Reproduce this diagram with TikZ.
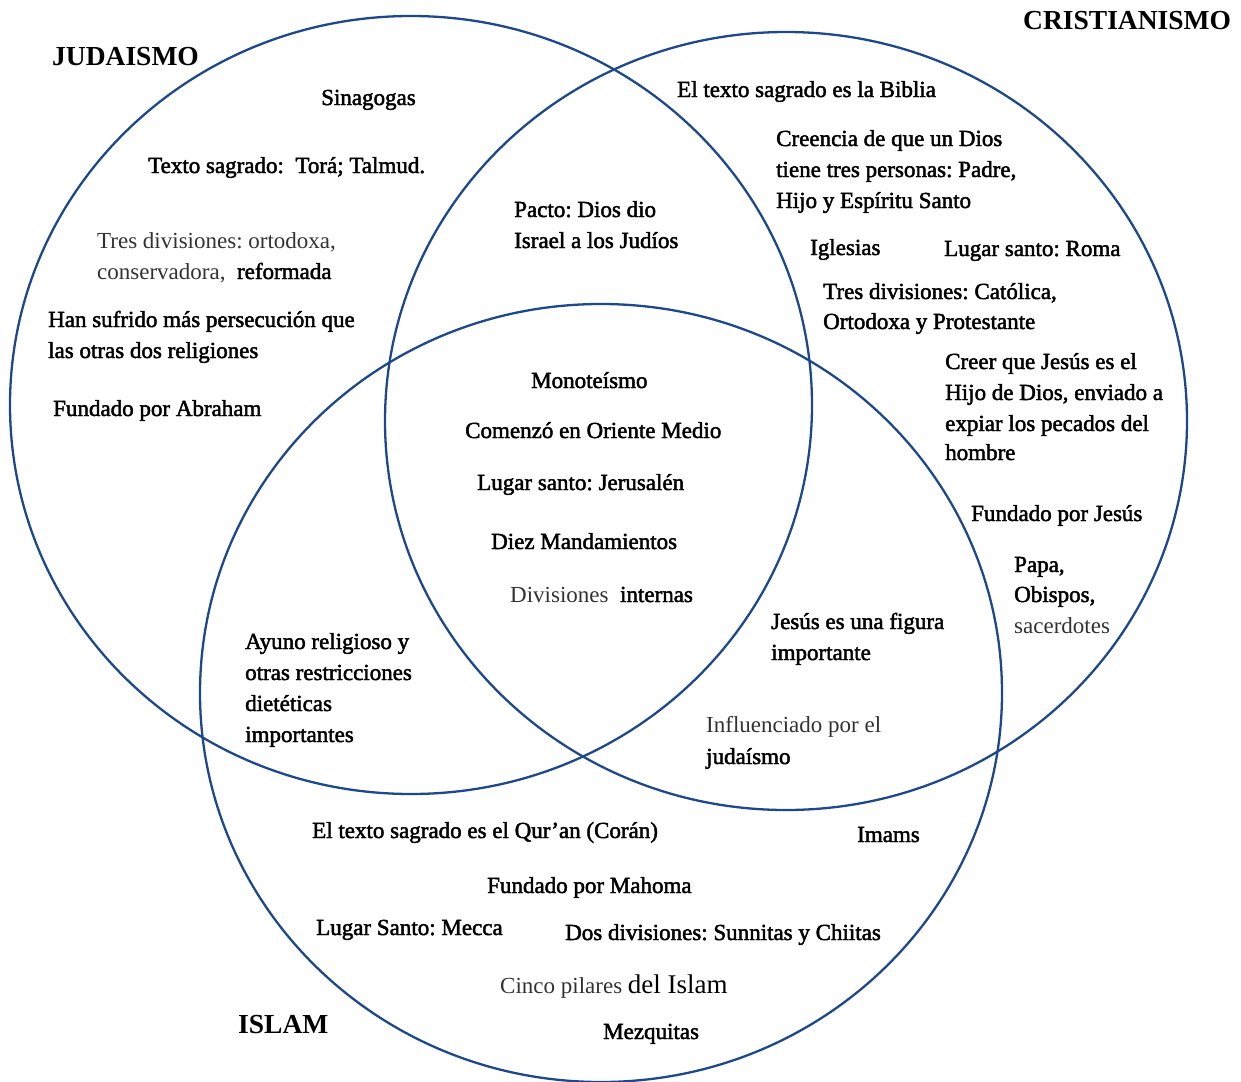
\documentclass[tikz,border=0pt]{standalone}
\usepackage{fontspec}
\setmainfont{Liberation Serif}
\newfontfamily\dkf[FakeBold=2]{Liberation Serif}
\newfontfamily\ltf{Liberation Serif}
\definecolor{vblue}{RGB}{30,72,140}
\definecolor{ltgray}{RGB}{50,50,50}
\frenchspacing
\begin{document}
\begin{tikzpicture}[x=1pt,y=-1pt,
 circ/.style={draw=vblue,line width=2.3pt},
 dk/.style={anchor=base west,inner sep=0pt,font=\frenchspacing\dkf\fontsize{23}{31}\selectfont},
 lt/.style={anchor=base west,inner sep=0pt,font=\frenchspacing\ltf\fontsize{23}{31}\selectfont,text=ltgray},
 ttl/.style={anchor=base west,inner sep=0pt,font=\bfseries\fontsize{27.5}{32}\selectfont}]
\useasboundingbox (0,0) rectangle (1241,1081);
% circles
\draw[circ] (411,405) ellipse [x radius=401, y radius=389];
\draw[circ] (786,421) ellipse [x radius=401, y radius=389];
\draw[circ] (601,693) ellipse [x radius=401, y radius=389];
% titles
\node[ttl] (tj) at (52,66) {JUDAISMO};
\node[ttl] (tc) at (1023,30) {CRISTIANISMO};
\node[ttl] (ti) at (238,1033) {ISLAM};
% Judaismo
\node[dk] (j1) at (321,105) {Sinagogas};
\node[dk] (j2) at (148,173) {Texto sagrado:~~Torá; Talmud.};
\node[lt] (j3a) at (97,248) {Tres divisiones: ortodoxa,};
\node[lt] (j3b) at (97,279) {conservadora,~~{\dkf\color{black}reformada}};
\node[dk] (j4a) at (48,327) {Han sufrido más persecución que};
\node[dk] (j4b) at (48,358) {las otras dos religiones};
\node[dk] (j5) at (53,416) {Fundado por Abraham};
% Judaismo + Cristianismo
\node[dk] (jc1) at (514,217) {Pacto: Dios dio};
\node[dk] (jc2) at (514,248) {Israel a los Judíos};
% Cristianismo
\node[dk] (c1) at (677,97) {El texto sagrado es la Biblia};
\node[dk] (c2a) at (776,146) {Creencia de que un Dios};
\node[dk] (c2b) at (776,177) {tiene tres personas: Padre,};
\node[dk] (c2c) at (776,208) {Hijo y Espíritu Santo};
\node[dk] (c3) at (810,255) {Iglesias};
\node[dk] (c4) at (944,256) {Lugar santo: Roma};
\node[dk] (c5a) at (823,299) {Tres divisiones: Católica,};
\node[dk] (c5b) at (823,329) {Ortodoxa y Protestante};
\node[dk] (c6a) at (945,369) {Creer que Jesús es el};
\node[dk] (c6b) at (945,400) {Hijo de Dios, enviado a};
\node[dk] (c6c) at (945,431) {expiar los pecados del};
\node[dk] (c6d) at (945,460) {hombre};
\node[dk] (c7) at (971,521) {Fundado por Jesús};
\node[dk] (c8a) at (1014,572) {Papa,};
\node[dk] (c8b) at (1014,602) {Obispos,};
\node[lt] (c8c) at (1014,633) {sacerdotes};
% center
\node[dk] (m1) at (531,388) {Monoteísmo};
\node[dk] (m2) at (465,438) {Comenzó en Oriente Medio};
\node[dk] (m3) at (477,490) {Lugar santo: Jerusalén};
\node[dk] (m4) at (491,549) {Diez Mandamientos};
\node[lt] (m5) at (510,602) {Divisiones~~{\dkf\color{black}internas}};
% Cristianismo + Islam
\node[dk] (ci1a) at (771,629) {Jesús es una figura};
\node[dk] (ci1b) at (771,660) {importante};
\node[lt] (ci2a) at (706,732) {Influenciado por el};
\node[dk] (ci2b) at (706,764) {judaísmo};
% Judaismo + Islam
\node[dk] (ji1) at (245,649) {Ayuno religioso y};
\node[dk] (ji2) at (245,680) {otras restricciones};
\node[dk] (ji3) at (245,711) {dietéticas};
\node[dk] (ji4) at (245,742) {importantes};
% Islam
\node[dk] (i1) at (312,838) {El texto sagrado es el Qur’an (Corán)};
\node[dk] (i2) at (857,842) {Imams};
\node[dk] (i3) at (487,893) {Fundado por Mahoma};
\node[dk] (i4) at (316,935) {Lugar Santo: Mecca};
\node[dk] (i5) at (565,940) {Dos divisiones: Sunnitas y Chiitas};
\node[lt] (i6) at (500,993) {Cinco pilares {\fontsize{27}{31}\selectfont\color{black}del Islam}};
\node[dk] (i7) at (603,1039) {Mezquitas};
\end{tikzpicture}
\end{document}
